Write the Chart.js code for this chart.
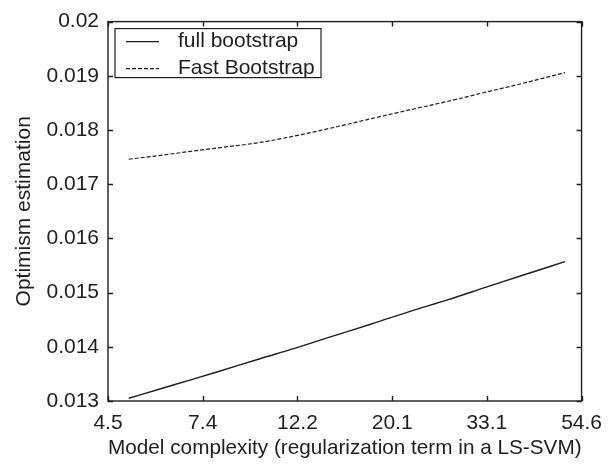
<!DOCTYPE html>
<html>
<head>
<meta charset="utf-8">
<script src="https://cdn.jsdelivr.net/npm/chart.js@4/dist/chart.umd.min.js"></script>
<style>
  html, body { margin: 0; padding: 0; background: #fff; }
  #wrap { width: 612px; height: 467px; }
</style>
</head>
<body>
<div id="wrap"><canvas id="optimism-chart" width="612" height="467"></canvas></div>
<script>
// Model complexity values (log axis) and the two optimism estimates
const complexity = [5, 6, 7, 8, 10, 12, 15, 18, 22, 27, 33, 40, 50];
const fullBootstrap = [0.01305, 0.01324, 0.01340, 0.01354, 0.01378, 0.01397, 0.01422, 0.01442, 0.01465, 0.01487, 0.01510, 0.01532, 0.01557];
const fastBootstrap = [0.01746, 0.01754, 0.01761, 0.01767, 0.01777, 0.01789, 0.01806, 0.01821, 0.01837, 0.01853, 0.01870, 0.01886, 0.01906];

// Tick positions and labels
const xTickValues = [4.4817, 7.3891, 12.1825, 20.0855, 33.1155, 54.5982];
const xTickLabels = ['4.5', '7.4', '12.2', '20.1', '33.1', '54.6'];
const yTickValues = [0.013, 0.014, 0.015, 0.016, 0.017, 0.018, 0.019, 0.02];
const yTickLabels = ['0.013', '0.014', '0.015', '0.016', '0.017', '0.018', '0.019', '0.02'];

const seriesNames = ['full bootstrap', 'Fast Bootstrap'];

const ink = '#1e1e1e';
const fontFamily = "'Liberation Sans', Arial, Helvetica, sans-serif";

const toPoints = vals => vals.map((v, i) => ({ x: complexity[i], y: v }));

// Frame, inward ticks on all four sides, and a boxed legend inside the plot
const framePlugin = {
    id: 'frame',
    afterDraw(chart) {
        const { ctx, chartArea: a, scales } = chart;
        const x = scales.x, y = scales.y;
        const len = 5;
        ctx.save();
        ctx.strokeStyle = ink;
        ctx.lineWidth = 1.4;
        ctx.strokeRect(a.left, a.top, a.right - a.left, a.bottom - a.top);
        ctx.beginPath();
        x.ticks.forEach(t => {
            const px = Math.round(x.getPixelForValue(t.value)) + 0.5;
            ctx.moveTo(px, a.bottom); ctx.lineTo(px, a.bottom - len);
            ctx.moveTo(px, a.top); ctx.lineTo(px, a.top + len);
        });
        y.ticks.forEach(t => {
            const py = Math.round(y.getPixelForValue(t.value)) + 0.5;
            ctx.moveTo(a.left, py); ctx.lineTo(a.left + len, py);
            ctx.moveTo(a.right, py); ctx.lineTo(a.right - len, py);
        });
        ctx.stroke();

        // legend
        const bx = a.left + 7, by = a.top + 7, bw = 206, bh = 49;
        ctx.fillStyle = '#fff';
        ctx.fillRect(bx, by, bw, bh);
        ctx.lineWidth = 1.2;
        ctx.strokeRect(bx, by, bw, bh);
        ctx.font = '21px ' + fontFamily;
        ctx.textBaseline = 'alphabetic';
        ctx.textAlign = 'left';
        chart.data.datasets.forEach((ds, i) => {
            const rowY = by + 13 + i * 27;
            ctx.beginPath();
            ctx.setLineDash(ds.borderDash || []);
            ctx.lineWidth = ds.borderWidth;
            ctx.strokeStyle = ds.borderColor;
            ctx.moveTo(bx + 11, rowY);
            ctx.lineTo(bx + 44, rowY);
            ctx.stroke();
            ctx.setLineDash([]);
            ctx.fillStyle = ink;
            ctx.fillText(ds.label, bx + 63, rowY + 5);
        });
        ctx.restore();
    }
};

new Chart(document.getElementById('optimism-chart'), {
    type: 'line',
    data: {
        datasets: [
            {
                label: seriesNames[0],
                data: toPoints(fullBootstrap),
                borderColor: ink,
                borderWidth: 1.4,
                pointRadius: 0,
                cubicInterpolationMode: 'monotone',
                fill: false,
            },
            {
                label: seriesNames[1],
                data: toPoints(fastBootstrap),
                borderColor: ink,
                borderWidth: 1.2,
                borderDash: [4, 2],
                pointRadius: 0,
                cubicInterpolationMode: 'monotone',
                fill: false,
            }
        ]
    },
    options: {
        responsive: false,
        animation: false,
        devicePixelRatio: 1,
        layout: { padding: { top: 20, right: 22, left: 0, bottom: 0 } },
        plugins: {
            legend: { display: false },
            tooltip: { enabled: false },
        },
        scales: {
            x: {
                type: 'logarithmic',
                min: xTickValues[0],
                max: xTickValues[xTickValues.length - 1],
                grid: { display: false, drawTicks: false },
                border: { display: false },
                afterBuildTicks: s => { s.ticks = xTickValues.map(v => ({ value: v })); },
                afterFit: s => { s.height = 66; },
                ticks: {
                    autoSkip: false,
                    maxRotation: 0,
                    padding: 10,
                    color: ink,
                    font: { size: 21, family: fontFamily },
                    callback: (v, i) => xTickLabels[i],
                },
                title: {
                    display: true,
                    text: 'Model complexity (regularization term in a LS-SVM)',
                    color: ink,
                    font: { size: 21, family: fontFamily },
                    padding: { top: 0, bottom: 6 },
                }
            },
            y: {
                type: 'linear',
                min: yTickValues[0],
                max: yTickValues[yTickValues.length - 1],
                grid: { display: false, drawTicks: false },
                border: { display: false },
                afterBuildTicks: s => { s.ticks = yTickValues.map(v => ({ value: v })); },
                afterFit: s => { s.width = 108; },
                ticks: {
                    autoSkip: false,
                    padding: 9,
                    color: ink,
                    font: { size: 21, family: fontFamily },
                    callback: (v, i) => yTickLabels[i],
                },
                title: {
                    display: true,
                    text: 'Optimism estimation',
                    color: ink,
                    font: { size: 21, family: fontFamily },
                    padding: { top: 12, bottom: 0 },
                }
            }
        }
    },
    plugins: [framePlugin]
});
</script>
</body>
</html>
